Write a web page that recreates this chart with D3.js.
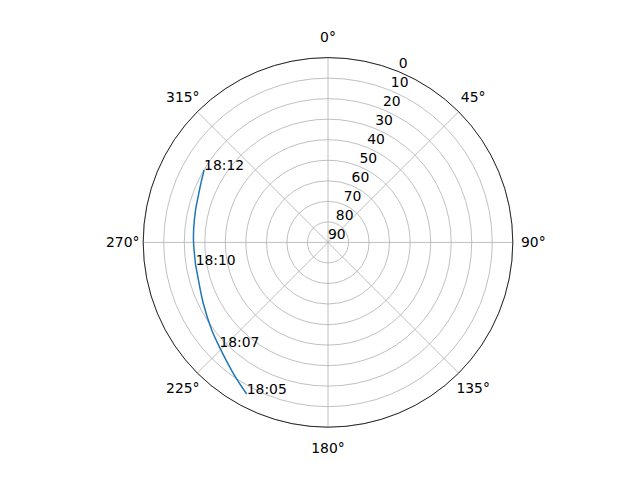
<!DOCTYPE html>
<html>
<head>
<meta charset="utf-8">
<script src="https://cdn.jsdelivr.net/npm/d3@7"></script>
<style>
  html, body { margin: 0; padding: 0; background: #fff; }
  svg { display: block; font-family: "DejaVu Sans", sans-serif; }
</style>
</head>
<body>
<svg id="chart" width="640" height="480"></svg>
<script>
// Sky track: azimuth (deg, clockwise from north) and elevation (deg)
const azimuth   = [208.2, 215.9, 226.1, 233.0, 244.0, 258.1, 260.3, 262.5, 270.3, 276.7, 283.8, 290.8, 295.5, 300.3];
const elevation = [6.2,   11.3,  16.6,  19.1,  22.4,  24.6,  24.6,  24.7,  24.5,  24.2,  23.6,  22.7,  21.6,  20.1];

// Time annotations: point index and text
const timeIndex  = [0, 2, 6, 13];
const timeLabels = ["18:05", "18:07", "18:10", "18:12"];

const rTicks = [0, 10, 20, 30, 40, 50, 60, 70, 80, 90];
const thetaTicks = [0, 45, 90, 135, 180, 225, 270, 315];

const W = 640, H = 480;
const cx = 328, cy = 242.4, R = 184.8;
const FS = 13.9;

const svg = d3.select("#chart");
svg.append("rect").attr("width", W).attr("height", H).attr("fill", "#fff");

const r = d3.scaleLinear().domain([90, 0]).range([0, R]);
const rad = (d) => (d * Math.PI) / 180;

const g = svg.append("g").attr("transform", `translate(${cx},${cy})`);

// Circular grid
g.selectAll("circle.rgrid")
  .data(rTicks.filter((t) => t !== 90))
  .join("circle")
  .attr("class", "rgrid")
  .attr("r", (d) => r(d))
  .attr("fill", "none")
  .attr("stroke", "#b0b0b0")
  .attr("stroke-width", 0.8);

// Radial grid
g.selectAll("line.tgrid")
  .data(thetaTicks)
  .join("line")
  .attr("class", "tgrid")
  .attr("x1", 0)
  .attr("y1", 0)
  .attr("x2", (d) => R * Math.sin(rad(d)))
  .attr("y2", (d) => -R * Math.cos(rad(d)))
  .attr("stroke", "#b0b0b0")
  .attr("stroke-width", 0.8);

// Track
const line = d3
  .lineRadial()
  .angle((d, i) => rad(azimuth[i]))
  .radius((d, i) => r(elevation[i]))
  .curve(d3.curveCatmullRom);

g.append("path")
  .datum(azimuth)
  .attr("d", line)
  .attr("fill", "none")
  .attr("stroke", "#1f77b4")
  .attr("stroke-width", 1.5);

// Outer spine
g.append("circle")
  .attr("r", R)
  .attr("fill", "none")
  .attr("stroke", "#000")
  .attr("stroke-width", 0.8);

// Theta tick labels
g.selectAll("text.tlbl")
  .data(thetaTicks)
  .join("text")
  .attr("class", "tlbl")
  .attr("x", (d) => (R + 20.5) * Math.sin(rad(d)))
  .attr("y", (d) => -(R + 20.5) * Math.cos(rad(d)))
  .attr("text-anchor", "middle")
  .attr("dominant-baseline", "central")
  .attr("font-size", FS)
  .attr("fill", "#000")
  .text((d) => `${d}°`);

// Radial tick labels along 22.5°
const labAng = rad(22.5);
g.selectAll("text.rlbl")
  .data(rTicks)
  .join("text")
  .attr("class", "rlbl")
  .attr("x", (d) => r(d) * Math.sin(labAng))
  .attr("y", (d) => -r(d) * Math.cos(labAng) - 3.3)
  .attr("font-size", FS)
  .attr("fill", "#000")
  .text((d) => d);

// Time annotations
g.selectAll("text.time")
  .data(timeIndex)
  .join("text")
  .attr("class", "time")
  .attr("x", (d) => r(elevation[d]) * Math.sin(rad(azimuth[d])))
  .attr("y", (d) => -r(elevation[d]) * Math.cos(rad(azimuth[d])))
  .attr("font-size", FS)
  .attr("fill", "#000")
  .text((d, i) => timeLabels[i]);
</script>
</body>
</html>
